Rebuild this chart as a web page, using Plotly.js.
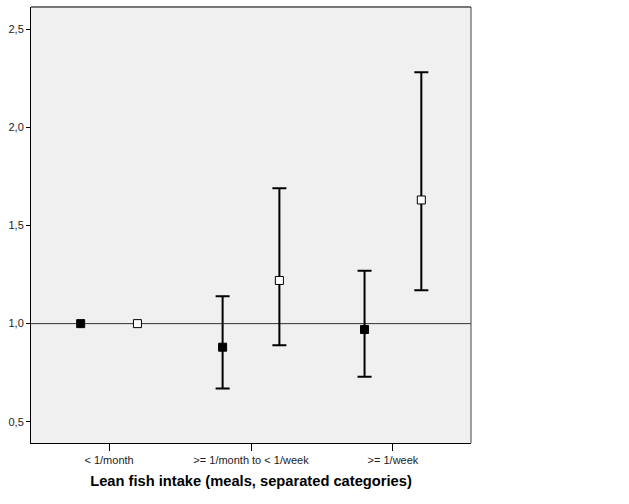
<!DOCTYPE html>
<html>
<head>
<meta charset="utf-8">
<script src="https://cdn.plot.ly/plotly-3.0.1.min.js"></script>
<style>html,body{margin:0;padding:0;background:#fff;}#chart{width:629px;height:504px;}</style>
</head>
<body>
<div id="chart"></div>
<script>
const categories = ["< 1/month", ">= 1/month to < 1/week", ">= 1/week"];
const filledValues = [1.0, 0.88, 0.97];
const filledUpper = [1.0, 1.14, 1.27];
const filledLower = [1.0, 0.67, 0.73];
const openValues = [1.0, 1.22, 1.63];
const openUpper = [1.0, 1.69, 2.28];
const openLower = [1.0, 0.89, 1.17];
const yTicks = [0.5, 1.0, 1.5, 2.0, 2.5];
const refValue = 1.0;

const offset = 0.2;
const idx = categories.map((c, i) => i);

function seriesTraces(vals, up, lo, xs, fill) {
  const withCI = idx.filter(i => up[i] !== lo[i]);
  const noCI = idx.filter(i => up[i] === lo[i]);
  const marker = {symbol: 'square', size: 8, color: fill, line: {color: '#000', width: 1}};
  return [
    {
      type: 'scatter', mode: 'markers',
      x: withCI.map(i => xs[i]), y: withCI.map(i => vals[i]),
      marker: marker,
      error_y: {type: 'data', symmetric: false,
        array: withCI.map(i => up[i] - vals[i]),
        arrayminus: withCI.map(i => vals[i] - lo[i]),
        color: '#000', thickness: 2, width: 7},
      hoverinfo: 'skip', showlegend: false, cliponaxis: false
    },
    {
      type: 'scatter', mode: 'markers',
      x: noCI.map(i => xs[i]), y: noCI.map(i => vals[i]),
      marker: marker, hoverinfo: 'skip', showlegend: false, cliponaxis: false
    }
  ];
}

const traces = [
  ...seriesTraces(filledValues, filledUpper, filledLower, idx.map(i => i - offset), '#000'),
  ...seriesTraces(openValues, openUpper, openLower, idx.map(i => i + offset), '#fff')
];

const layout = {
  width: 629, height: 504,
  margin: {l: 31, r: 158, t: 7, b: 61},
  paper_bgcolor: '#fff', plot_bgcolor: '#f0f0f0',
  separators: ',.',
  font: {family: 'Liberation Sans, Arial, sans-serif', size: 11, color: '#222'},
  xaxis: {
    range: [-0.55, 2.55], tickvals: idx, ticktext: categories,
    showgrid: false, zeroline: false, showline: true, linecolor: '#000', linewidth: 1,
    ticks: 'outside', ticklen: 7, tickcolor: '#000', tickwidth: 1,
    tickfont: {size: 11, color: '#222'},
    title: {text: 'Lean fish intake (meals, separated categories)', font: {size: 14.7, color: '#000', family: 'Liberation Sans, Arial, sans-serif', weight: 'bold'}, standoff: 10}
  },
  yaxis: {
    range: [0.392, 2.613], tickvals: yTicks, tickformat: '.1f',
    showgrid: false, zeroline: false, showline: true, linecolor: '#000', linewidth: 1,
    ticks: 'outside', ticklen: 4, tickcolor: '#000', tickwidth: 1,
    tickfont: {size: 11, color: '#222'}
  },
  shapes: [
    {type: 'line', xref: 'paper', x0: 0, x1: 1, yref: 'y', y0: refValue, y1: refValue, line: {color: '#333', width: 1}, layer: 'below'},
    {type: 'line', xref: 'paper', x0: 0, x1: 1, yref: 'paper', y0: 1, y1: 1, line: {color: '#777', width: 2}},
    {type: 'line', xref: 'paper', x0: 1, x1: 1, yref: 'paper', y0: 0, y1: 1, line: {color: '#444', width: 1}}
  ]
};

Plotly.newPlot('chart', traces, layout, {displayModeBar: false, staticPlot: true});
</script>
</body>
</html>
